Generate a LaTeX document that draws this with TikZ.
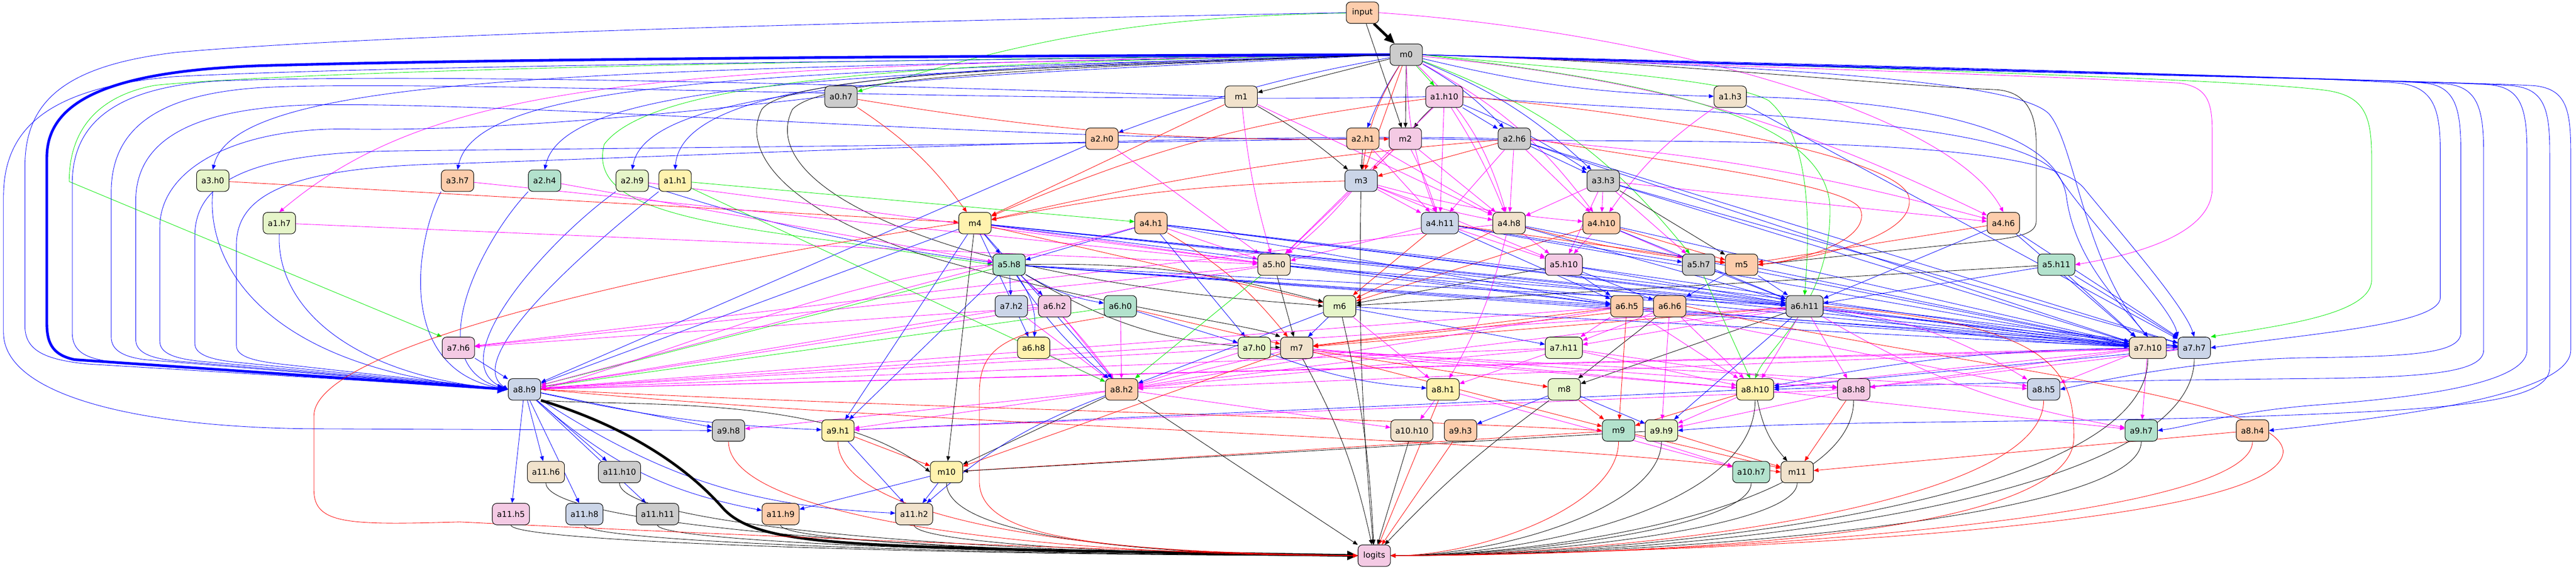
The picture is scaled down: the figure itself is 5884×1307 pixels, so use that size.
\documentclass[tikz,border=0pt]{standalone}
\usepackage{fontspec}
\setmainfont{DejaVu Sans}
\usetikzlibrary{arrows.meta}
\definecolor{cMint}{HTML}{B3E2CD}
\definecolor{cPeach}{HTML}{FDCDAC}
\definecolor{cBlue}{HTML}{CBD5E8}
\definecolor{cPink}{HTML}{F4CAE4}
\definecolor{cGreen}{HTML}{E6F5C9}
\definecolor{cYellow}{HTML}{FFF2AE}
\definecolor{cBeige}{HTML}{F1E2CC}
\definecolor{cGray}{HTML}{CCCCCC}
\definecolor{eB}{RGB}{0,0,255}
\definecolor{eM}{RGB}{255,0,255}
\definecolor{eG}{RGB}{0,235,0}
\definecolor{eR}{RGB}{255,0,0}
\definecolor{eK}{RGB}{0,0,0}
\pgfdeclarelayer{bg}
\pgfdeclarelayer{edges}
\pgfsetlayers{bg,edges,main}
\tikzset{
 nd/.style={draw=black, line width=0.6pt, rounded corners=5pt, minimum width=37pt, minimum height=24.5pt, inner xsep=5.2pt, inner ysep=0pt, font=\fontsize{9.2}{10}\selectfont, text=black},
 ed/.style={line width=0.5pt, -{Triangle[length=5.5pt,width=4.5pt]}},
 thk/.style={line width=3pt, -{Triangle[length=12pt,width=10pt]}}
}
\newcommand\myE[4][0]{\ifnum#1=0 \draw[ed,draw=#2] (#3) -- (#4);\else\draw[ed,draw=#2] (#3) to[bend left=#1] (#4);\fi}
\begin{document}
\begin{tikzpicture}[x=0.5pt,y=-0.5pt]
\useasboundingbox (0,0) rectangle (5884,1307);
\begin{pgfonlayer}{bg}\fill[white] (0,0) rectangle (5884,1307);\end{pgfonlayer}
% ---------------- nodes
\node[nd,fill=cPeach] (inp) at (3112,29) {input};
\node[nd,fill=cGray] (m0) at (3212,125) {m0};
\node[nd,fill=cGray] (a0h7) at (1921,221) {a0.h7};
\node[nd,fill=cBeige] (m1) at (2835,221) {m1};
\node[nd,fill=cPink] (a1h10) at (3299,221) {a1.h10};
\node[nd,fill=cBeige] (a1h3) at (3952,221) {a1.h3};
\node[nd,fill=cPeach] (a2h0) at (2517,317) {a2.h0};
\node[nd,fill=cPeach] (a2h1) at (3113,317) {a2.h1};
\node[nd,fill=cPink] (m2) at (3210,317) {m2};
\node[nd,fill=cGray] (a2h6) at (3459,317) {a2.h6};
\node[nd,fill=cGreen] (a3h0) at (486,413) {a3.h0};
\node[nd,fill=cPeach] (a3h7) at (1045,413) {a3.h7};
\node[nd,fill=cMint] (a2h4) at (1244,413) {a2.h4};
\node[nd,fill=cGreen] (a2h9) at (1444,413) {a2.h9};
\node[nd,fill=cYellow] (a1h1) at (1542,413) {a1.h1};
\node[nd,fill=cBlue] (m3) at (3109,413) {m3};
\node[nd,fill=cGray] (a3h3) at (3662,413) {a3.h3};
\node[nd,fill=cGreen] (a1h7) at (638,510) {a1.h7};
\node[nd,fill=cYellow] (m4) at (2227,510) {m4};
\node[nd,fill=cPeach] (a4h1) at (2629,510) {a4.h1};
\node[nd,fill=cBlue] (a4h11) at (3289,510) {a4.h11};
\node[nd,fill=cBeige] (a4h8) at (3447,510) {a4.h8};
\node[nd,fill=cPeach] (a4h10) at (3658,510) {a4.h10};
\node[nd,fill=cPeach] (a4h6) at (4576,510) {a4.h6};
\node[nd,fill=cMint] (a5h8) at (2305,605) {a5.h8};
\node[nd,fill=cBeige] (a5h0) at (2910,605) {a5.h0};
\node[nd,fill=cPink] (a5h10) at (3572,605) {a5.h10};
\node[nd,fill=cGray] (a5h7) at (3880,605) {a5.h7};
\node[nd,fill=cPeach] (m5) at (3978,605) {m5};
\node[nd,fill=cMint] (a5h11) at (4697,605) {a5.h11};
\node[nd,fill=cBlue] (a7h2) at (2310,700) {a7.h2};
\node[nd,fill=cPink] (a6h2) at (2409,700) {a6.h2};
\node[nd,fill=cMint] (a6h0) at (2559,700) {a6.h0};
\node[nd,fill=cGreen] (m6) at (3060,700) {m6};
\node[nd,fill=cPeach] (a6h5) at (3716,700) {a6.h5};
\node[nd,fill=cPeach] (a6h6) at (3814,700) {a6.h6};
\node[nd,fill=cGray] (a6h11) at (4122,700) {a6.h11};
\node[nd,fill=cPink] (a7h6) at (1047,795) {a7.h6};
\node[nd,fill=cYellow] (a6h8) at (2361,795) {a6.h8};
\node[nd,fill=cGreen] (a7h0) at (2865,795) {a7.h0};
\node[nd,fill=cBeige] (m7) at (2962,795) {m7};
\node[nd,fill=cGreen] (a7h11) at (3572,795) {a7.h11};
\node[nd,fill=cBeige] (a7h10) at (4906,795) {a7.h10};
\node[nd,fill=cBlue] (a7h7) at (5012,795) {a7.h7};
\node[nd,fill=cBlue] (a8h9) at (1198,890) {a8.h9};
\node[nd,fill=cPeach] (a8h2) at (2562,890) {a8.h2};
\node[nd,fill=cYellow] (a8h1) at (3296,890) {a8.h1};
\node[nd,fill=cGreen] (m8) at (3573,890) {m8};
\node[nd,fill=cYellow] (a8h10) at (4009,890) {a8.h10};
\node[nd,fill=cPink] (a8h8) at (4234,890) {a8.h8};
\node[nd,fill=cBlue] (a8h5) at (4668,890) {a8.h5};
\node[nd,fill=cGray] (a9h8) at (1664,984) {a9.h8};
\node[nd,fill=cYellow] (a9h1) at (1914,984) {a9.h1};
\node[nd,fill=cBeige] (a10h10) at (3225,984) {a10.h10};
\node[nd,fill=cPeach] (a9h3) at (3336,984) {a9.h3};
\node[nd,fill=cMint] (m9) at (3697,984) {m9};
\node[nd,fill=cGreen] (a9h9) at (3795,984) {a9.h9};
\node[nd,fill=cMint] (a9h7) at (4891,984) {a9.h7};
\node[nd,fill=cPeach] (a8h4) at (5145,984) {a8.h4};
\node[nd,fill=cBeige] (a11h6) at (1247,1079) {a11.h6};
\node[nd,fill=cGray] (a11h10) at (1415,1079) {a11.h10};
\node[nd,fill=cYellow] (m10) at (2162,1079) {m10};
\node[nd,fill=cMint] (a10h7) at (4000,1079) {a10.h7};
\node[nd,fill=cBeige] (m11) at (4105,1079) {m11};
\node[nd,fill=cPink] (a11h5) at (1167,1175) {a11.h5};
\node[nd,fill=cBlue] (a11h8) at (1335,1175) {a11.h8};
\node[nd,fill=cGray] (a11h11) at (1502,1175) {a11.h11};
\node[nd,fill=cPeach] (a11h9) at (1783,1175) {a11.h9};
\node[nd,fill=cBeige] (a11h2) at (2088,1175) {a11.h2};
\node[nd,fill=cPink] (logits) at (3139,1270) {logits};
% ---------------- edges
\begin{pgfonlayer}{edges}
% input
\draw[draw=black,thk] (inp) -- (m0);
\myE{eK}{inp}{m2}
\myE[-8]{eG}{inp}{a0h7}
\draw[ed,draw=eM] (inp.east) .. controls (3750,70) and (4450,250) .. (a4h6.north);
% m0 direct
\myE{eK}{m0}{m1}
\myE{eG}{m0}{a1h10}
\myE{eK}{m0}{m2}
\myE[-5]{eB}{m0}{a2h1}
\myE[8]{eB}{m0}{a2h6}
\myE[-6]{eB}{m0}{a1h3}
\myE[10]{eB}{m0}{a3h3}
\myE[-12]{eR}{m0}{m3}
\myE[15]{eM}{m0}{a4h8}
\myE[-5]{eB}{m0}{a2h0}
\myE[-10]{eM}{m0}{a4h11}
\myE[12]{eM}{m0}{a4h10}
\myE[10]{eM}{m0}{a4h6}
\myE[15]{eG}{m0}{a5h7}
% m0 left band
\draw[ed,draw=eB] (m0.west) .. controls (1400,160) and (540,165) .. (a3h0.north);
\draw[ed,draw=eB] (m0.west) .. controls (1800,165) and (1090,175) .. (a3h7.north);
\draw[ed,draw=eB] (m0.west) .. controls (2000,170) and (1290,180) .. (a2h4.north);
\draw[ed,draw=eB] (m0.west) .. controls (2200,175) and (1480,185) .. (a2h9.north);
\draw[ed,draw=eB] (m0.west) .. controls (2300,150) and (1560,160) .. (a1h1.north);
\draw[ed,draw=eM] (m0.west) .. controls (1500,150) and (1000,180) .. (a1h7.north);
\draw[ed,draw=eG] (m0.west) .. controls (1500,140) and (600,170) .. (354,195) .. controls (220,220) and (158,300) .. (158,415) -- (a7h6.north west);
\draw[ed,draw=eG] (m0.west) .. controls (2200,140) and (1500,170) .. (1380,330) .. controls (1350,450) and (1500,500) .. (1900,550) -- (a5h8.west);
\draw[draw=eB,thk] (m0.west) .. controls (2400,127) and (1200,133) .. (600,150) .. controls (250,162) and (107,230) .. (107,360) -- (107,740) .. controls (107,790) and (125,812) .. (170,822) -- (a8h9.west);
\draw[ed,draw=eB] (m0.west) .. controls (2000,140) and (900,150) .. (400,175) .. controls (100,200) and (8,300) .. (8,450) -- (8,760) .. controls (8,900) and (300,975) .. (700,980) -- (a9h8.west);
\draw[ed,draw=eB] (inp.west) .. controls (2200,45) and (900,75) .. (400,120) .. controls (150,150) and (57,230) .. (57,380) -- (57,745) .. controls (57,800) and (100,822) .. (200,832) -- (a8h9.west);
\draw[ed,draw=eB] (m1.west) .. controls (2200,200) and (1000,165) .. (500,185) .. controls (250,200) and (165,290) .. (165,420) -- (165,760) .. controls (165,800) and (190,818) .. (250,826) -- (a8h9.west);
\draw[ed,draw=eB] (a1h10.west) .. controls (2400,240) and (1000,180) .. (600,200) .. controls (350,215) and (254,300) .. (254,440) -- (254,770) .. controls (254,800) and (280,815) .. (330,822) -- (a8h9.west);
\draw[ed,draw=eB] (m2.west) .. controls (2400,330) and (1200,230) .. (700,240) .. controls (420,250) and (310,330) .. (310,460) -- (310,775) .. controls (310,805) and (340,818) .. (400,825) -- (a8h9.west);
\draw[ed,draw=eB] (a0h7.west) .. controls (1500,265) and (1100,300) .. (800,295) .. controls (550,290) and (365,380) .. (365,520) -- (365,780) .. controls (365,808) and (400,820) .. (460,826) -- (a8h9.west);
\draw[ed,draw=eB] (a2h1.west) .. controls (2400,330) and (1300,340) .. (900,345) .. controls (560,350) and (445,420) .. (445,540) -- (445,785) .. controls (445,810) and (480,822) .. (540,828) -- (a8h9.west);
\draw[ed,draw=eB] (a2h6.west) .. controls (2800,300) and (1500,360) .. (1000,375) .. controls (650,385) and (540,450) .. (540,560) -- (540,790) .. controls (540,815) and (580,825) .. (640,832) -- (a8h9.west);
\draw[ed,draw=eK] (m0.west) .. controls (2400,150) and (1800,170) .. (1740,250) .. controls (1690,350) and (1800,480) .. (2100,580) .. controls (2500,700) and (2850,740) .. (m7.north west);
\draw[ed,draw=eK] (m0.west) .. controls (2400,155) and (1880,175) .. (1810,250) .. controls (1760,350) and (1870,470) .. (2200,570) .. controls (2600,680) and (2950,690) .. (m6.west);
% left nodes -> a8h9
\draw[ed,draw=eB] (a3h0.south) .. controls (470,600) and (600,850) .. (a8h9.west);
\draw[ed,draw=eB] (a3h7.south west) .. controls (950,550) and (900,850) .. (a8h9.west);
\draw[ed,draw=eB] (a2h4.south west) .. controls (1100,550) and (950,840) .. (a8h9.west);
\draw[ed,draw=eB] (a2h9.south west) .. controls (1250,550) and (1000,830) .. (a8h9.west);
\draw[ed,draw=eB] (a1h7.south) .. controls (630,700) and (800,860) .. (a8h9.west);
\draw[ed,draw=eB] (a1h1.south west) .. controls (1350,560) and (1050,820) .. (a8h9.west);
% m0 right band
\draw[ed,draw=eK] (m0.east) .. controls (3800,140) and (4300,195) .. (4560,205) .. controls (4630,210) and (4651,260) .. (4651,330) -- (4651,505) .. controls (4651,540) and (4600,545) .. (4450,560) -- (m5.east);
\draw[ed,draw=eM] (m0.east) .. controls (3900,150) and (4600,170) .. (4980,190) .. controls (5040,200) and (5053,230) .. (5053,300) -- (5053,430) .. controls (5053,510) and (4950,570) .. (a5h11.east);
\draw[ed,draw=eG] (m0.east) .. controls (3600,160) and (3950,180) .. (4040,230) .. controls (4120,300) and (4140,450) .. (a6h11.north);
\draw[ed,draw=eG] (m0.east) .. controls (3700,180) and (4180,250) .. (4180,480) .. controls (4180,700) and (4040,790) .. (a8h10.north);
\draw[ed,draw=eB] (m0.east) .. controls (4000,150) and (4600,180) .. (4680,260) .. controls (4740,330) and (4760,600) .. (a7h10.north);
\draw[ed,draw=eG] (m0.east) .. controls (4100,150) and (5100,180) .. (5300,205) .. controls (5400,215) and (5417,260) .. (5417,360) -- (5417,640) .. controls (5417,720) and (5200,745) .. (a7h7.north east);
\draw[ed,draw=eB] (m0.east) .. controls (4100,145) and (5300,175) .. (5480,190) .. controls (5560,200) and (5574,250) .. (5574,350) -- (5574,680) .. controls (5574,740) and (5300,760) .. (a7h7.east);
\draw[ed,draw=eB] (m0.east) .. controls (4100,148) and (5400,178) .. (5540,190) .. controls (5610,198) and (5621,250) .. (5621,350) -- (5621,760) .. controls (5621,810) and (5500,815) .. (5250,818) .. controls (5000,825) and (4800,870) .. (a8h5.east);
\draw[ed,draw=eB] (m0.east) .. controls (4100,150) and (5450,180) .. (5590,192) .. controls (5660,200) and (5673,250) .. (5673,350) -- (5673,800) .. controls (5673,850) and (5550,862) .. (5300,865) .. controls (4800,870) and (4300,880) .. (a8h10.east);
\draw[ed,draw=eB] (m0.east) .. controls (4100,152) and (5550,182) .. (5690,194) .. controls (5760,202) and (5772,250) .. (5772,350) -- (5772,800) .. controls (5772,880) and (5500,910) .. (5300,925) .. controls (5100,940) and (5000,975) .. (a9h7.east);
\draw[ed,draw=eB] (m0.east) .. controls (4100,154) and (5600,184) .. (5740,196) .. controls (5812,204) and (5824,250) .. (5824,350) -- (5824,840) .. controls (5824,920) and (5600,935) .. (5200,950) .. controls (4700,968) and (4100,960) .. (a9h9.east);
\draw[ed,draw=eB] (m0.east) .. controls (4100,156) and (5650,186) .. (5790,196) .. controls (5862,204) and (5872,250) .. (5872,350) -- (5872,800) .. controls (5872,900) and (5500,950) .. (a8h4.east);
\draw[ed,draw=eB] (a1h3.east) .. controls (4400,230) and (4700,300) .. (4720,450) .. controls (4740,600) and (4850,700) .. (a7h10.north);
\draw[ed,draw=eB] (a1h10.east) .. controls (3800,260) and (4600,260) .. (4700,400) .. controls (4780,520) and (4960,700) .. (a7h7.north west);
\draw[ed,draw=eB] (m2.east) .. controls (3800,330) and (4650,300) .. (4760,430) .. controls (4850,540) and (4990,700) .. (a7h7.north);
\draw[ed,draw=eR] (a1h10.east) .. controls (3800,260) and (4340,360) .. (4360,450) .. controls (4380,540) and (4150,590) .. (m5.east);
\draw[ed,draw=eR] (a2h6.east) .. controls (3800,370) and (4230,420) .. (4250,480) .. controls (4270,540) and (4150,590) .. (m5.east);
% rows 2-4
\myE[-5]{eK}{a1h10}{m2}
\myE[-5]{eR}{a0h7}{m2}
\myE{eB}{a1h10}{a2h6}
\myE{eR}{m0}{m3}
\myE[5]{eK}{m1}{m3}
\myE{eK}{a2h1}{m3}
\myE{eR}{m2}{m3}
\myE{eR}{a2h6}{m3}
\myE{eB}{a2h6}{a3h3}
\myE[5]{eB}{a1h10}{a3h3}
\myE[10]{eR}{a0h7}{m4}
\myE{eR}{a3h0}{m4}
\myE{eR}{m1}{m4}
\myE[-5]{eR}{m3}{m4}
\myE[-4]{eR}{a2h6}{m4}
\myE[-8]{eR}{a1h10}{m4}
\myE{eG}{a1h1}{a4h1}
% a4 layer
\myE{eM}{a1h10}{a4h11}
\myE[5]{eM}{m2}{a4h11}
\myE{eM}{m3}{a4h11}
\myE{eM}{a2h1}{a4h11}
\myE{eM}{a2h6}{a4h11}
\myE{eM}{m1}{a4h8}
\myE{eM}{m2}{a4h8}
\myE[-5]{eM}{m3}{a4h8}
\myE{eM}{a2h6}{a4h8}
\myE{eM}{a3h3}{a4h8}
\myE[5]{eM}{a1h10}{a4h8}
\myE{eM}{a2h1}{a4h8}
\myE[-5]{eM}{m3}{a4h10}
\myE{eM}{a2h6}{a4h10}
\myE{eM}{a3h3}{a4h10}
\myE[-10]{eM}{a1h3}{a4h10}
\myE{eM}{a3h3}{a4h6}
\myE[5]{eM}{a2h6}{a4h6}
% a5 layer
\myE{eB}{m4}{a5h8}
\myE{eB}{a4h1}{a5h8}
\myE[-5]{eB}{a2h9}{a5h8}
\myE{eM}{a2h4}{a5h8}
\myE{eM}{m4}{a5h0}
\myE{eM}{a4h1}{a5h0}
\myE{eM}{a2h0}{a5h0}
\myE[-5]{eM}{m1}{a5h0}
\myE{eM}{m2}{a5h0}
\myE[5]{eM}{m3}{a5h0}
\myE{eM}{a1h10}{a5h0}
\myE{eM}{a4h11}{a5h0}
\myE{eM}{a3h7}{a5h0}
\myE{eM}{a1h7}{a5h0}
\myE{eM}{a2h9}{a5h0}
\myE{eM}{a4h8}{a5h10}
\myE{eM}{a4h10}{a5h10}
\myE{eM}{a3h3}{a5h10}
\myE{eM}{a4h11}{a5h10}
\myE{eM}{m3}{a5h10}
\myE{eM}{a4h10}{a5h7}
\myE{eM}{a3h3}{a5h7}
\myE{eB}{a4h11}{a5h7}
\myE{eR}{a4h10}{m5}
\myE{eR}{a4h11}{m5}
\myE{eK}{a3h3}{m5}
\myE{eR}{a4h6}{m5}
\myE[-4]{eR}{a4h8}{m5}
% a6/m6 layer
\myE{eB}{a5h8}{a7h2}
\myE{eB}{a5h8}{a6h2}
\myE[-10]{eB}{a5h8}{a6h0}
\myE{eR}{m4}{m6}
\myE[8]{eK}{a5h8}{m6}
\myE{eR}{a4h11}{m6}
\myE{eR}{a4h8}{m6}
\myE{eR}{a4h10}{m6}
\myE{eK}{a5h10}{m6}
\myE{eK}{a5h11}{m6}
\myE{eB}{a5h8}{a6h5}
\myE{eB}{a4h1}{a6h5}
\myE{eB}{m4}{a6h5}
\myE{eB}{a5h0}{a6h5}
\myE{eB}{a4h11}{a6h5}
\myE{eB}{a5h10}{a6h5}
\myE{eB}{m5}{a6h6}
\myE{eB}{a5h10}{a6h6}
\myE{eB}{a5h7}{a6h11}
\myE{eB}{m5}{a6h11}
\myE{eB}{a4h10}{a6h11}
\myE{eB}{a4h8}{a6h11}
\myE{eB}{a4h6}{a6h11}
\myE{eB}{a5h11}{a6h11}
\myE{eB}{a5h10}{a6h11}
\myE{eB}{m4}{a6h11}
\myE{eB}{a5h8}{a6h11}
\myE{eB}{a4h1}{a6h11}
\myE{eB}{a5h0}{a6h11}
% row 8
\myE{eM}{a5h0}{a7h6}
\myE{eM}{a6h2}{a7h6}
\myE{eM}{a4h8}{a7h6}
\myE[20]{eB}{a5h8}{a6h8}
\myE{eB}{m4}{a6h8}
\myE{eB}{a4h1}{a7h0}
\myE{eB}{a6h0}{a7h0}
\myE{eR}{a6h0}{m7}
\myE[-15]{eK}{a5h8}{m7}
\myE{eK}{a5h0}{m7}
\myE{eR}{a6h5}{m7}
\myE{eR}{a6h11}{m7}
\myE{eR}{a6h6}{m7}
\myE{eB}{m6}{m7}
\myE[10]{eR}{a4h1}{m7}
\myE{eB}{m6}{a7h11}
\myE{eM}{a6h5}{a7h11}
\myE{eM}{a6h6}{a7h11}
\myE{eM}{a6h11}{a7h11}
\myE{eB}{a2h6}{a7h10}
\myE{eB}{a3h3}{a7h10}
\myE{eB}{a4h6}{a7h10}
\myE{eB}{a5h11}{a7h10}
\myE{eB}{a6h11}{a7h10}
\myE{eB}{a6h5}{a7h10}
\myE{eB}{m5}{a7h10}
\myE{eB}{a4h10}{a7h10}
\myE{eB}{a4h8}{a7h10}
\myE{eB}{a5h8}{a7h10}
\myE{eB}{a4h1}{a7h10}
\myE{eB}{m4}{a7h10}
\myE{eB}{a5h0}{a7h10}
\myE{eB}{a5h10}{a7h10}
\myE{eB}{m6}{a7h10}
\myE{eB}{a4h11}{a7h10}
\myE{eB}{a1h3}{a7h7}
\myE{eB}{a4h6}{a7h7}
\myE{eB}{a5h11}{a7h7}
\myE[-5]{eB}{a6h11}{a7h7}
\myE{eB}{a2h6}{a7h7}
\myE{eB}{a3h3}{a7h7}
\myE{eB}{a4h1}{a7h7}
\myE{eB}{a5h8}{a7h7}
\myE{eB}{m4}{a7h7}
% a8h9 others
\myE{eB}{a2h0}{a8h9}
\myE{eB}{a7h6}{a8h9}
\myE{eB}{m4}{a8h9}
\myE{eG}{a5h8}{a8h9}
\myE{eG}{a6h0}{a8h9}
\draw[ed,draw=eM] (a5h8.west) .. controls (1900,640) and (1500,820) .. (a8h9.east);
\myE{eM}{a4h1}{a8h9}
\myE{eM}{a5h0}{a8h9}
\myE{eM}{a6h2}{a8h9}
\myE{eM}{a7h0}{a8h9}
\myE{eM}{a7h11}{a8h9}
\myE{eM}{a6h5}{a8h9}
\myE{eM}{a6h11}{a8h9}
\myE{eM}{a7h10}{a8h9}
\myE{eM}{a7h7}{a8h9}
% a8h2
\myE{eM}{a6h2}{a8h2}
\myE{eM}{a6h8}{a8h2}
\myE{eM}{a6h0}{a8h2}
\myE{eM}{a7h2}{a8h2}
\myE{eM}{a7h0}{a8h2}
\myE{eM}{m7}{a8h2}
\myE[5]{eM}{a5h8}{a8h2}
\myE{eM}{a6h5}{a8h2}
\myE{eM}{a7h11}{a8h2}
\myE{eG}{a5h0}{a8h2}
\myE{eB}{m4}{a8h2}
\myE[-8]{eB}{a5h8}{a8h2}
\myE{eB}{m6}{a8h2}
\myE{eG}{a1h1}{a8h2}
\myE{eM}{a7h10}{a8h2}
\myE{eM}{a6h11}{a8h2}
% a8h1, m8, a8h10, a8h8, a8h5
\myE[8]{eM}{a4h8}{a8h1}
\myE{eM}{m6}{a8h1}
\myE{eM}{a7h11}{a8h1}
\myE[-8]{eB}{a7h0}{a8h1}
\myE{eR}{m7}{m8}
\myE{eK}{a6h6}{m8}
\myE{eK}{a6h11}{m8}
\myE{eG}{a5h7}{a8h10}
\myE{eM}{a6h11}{a8h10}
\myE{eM}{a6h5}{a8h10}
\myE{eM}{a7h11}{a8h10}
\myE{eM}{m7}{a8h10}
\myE{eM}{a6h6}{a8h10}
\myE{eM}{a7h10}{a8h10}
\myE[-5]{eB}{a7h10}{a8h10}
\myE{eB}{a7h7}{a8h10}
\myE{eM}{a7h0}{a8h10}
\myE{eM}{a6h11}{a8h8}
\myE{eM}{a7h11}{a8h8}
\myE{eM}{a7h10}{a8h8}
\myE{eM}{a7h7}{a8h8}
\myE{eM}{m7}{a8h8}
\myE[12]{eM}{a6h11}{a8h5}
\myE{eM}{a6h5}{a8h5}
\myE{eM}{a7h10}{a8h5}
\myE{eM}{a7h0}{a8h5}
% row 10
\myE{eB}{a8h9}{a9h8}
\myE{eM}{a8h2}{a9h8}
\myE[-5]{eB}{a8h9}{a9h1}
\myE{eB}{m4}{a9h1}
\myE{eB}{a5h8}{a9h1}
\myE{eM}{a8h2}{a9h1}
\myE{eB}{a8h10}{a9h1}
\myE{eM}{a8h8}{a9h1}
\myE{eM}{a8h2}{a10h10}
\myE{eM}{a8h1}{a10h10}
\myE{eB}{m8}{a9h3}
\draw[ed,draw=eR] (a8h9.east) .. controls (2000,930) and (3000,950) .. (m9.west);
\myE{eR}{m8}{m9}
\myE{eR}{a6h5}{m9}
\myE{eR}{a8h10}{m9}
\myE{eR}{m7}{m9}
\myE{eB}{m8}{a9h9}
\myE{eM}{a6h6}{a9h9}
\myE{eB}{a6h11}{a9h9}
\myE{eM}{a8h8}{a9h9}
\myE{eM}{a8h10}{a9h9}
\myE[-10]{eM}{a6h11}{a9h7}
\myE{eM}{a8h10}{a9h7}
\myE{eM}{a7h10}{a9h7}
% rows 11-12
\myE{eB}{a8h9}{a11h6}
\myE{eB}{a8h9}{a11h10}
\myE{eR}{a9h1}{m10}
\myE{eK}{a8h2}{m10}
\draw[ed,draw=eK] (a8h9.south east) .. controls (1450,930) and (1900,900) .. (m10.west);
\myE{eR}{m9}{m10}
\myE{eK}{a9h9}{m10}
\myE{eK}{m4}{m10}
\myE{eR}{m7}{m10}
\myE{eM}{m9}{a10h7}
\myE{eM}{a8h1}{a10h7}
\myE{eR}{m9}{m11}
\draw[ed,draw=eR] (a8h9.east) .. controls (2200,980) and (3500,1000) .. (m11.west);
\myE[-15]{eK}{a8h10}{m11}
\myE{eR}{a8h8}{m11}
\myE{eR}{a8h4}{m11}
\myE{eR}{a9h9}{m11}
\myE{eB}{a8h9}{a11h5}
\myE{eB}{a8h9}{a11h8}
\myE{eB}{a8h9}{a11h11}
\myE[-15]{eB}{a8h9}{a11h9}
\myE{eB}{m10}{a11h9}
\myE{eB}{m10}{a11h2}
\myE{eB}{a9h1}{a11h2}
\myE[-15]{eB}{a8h9}{a11h2}
\myE[-10]{eB}{a8h2}{a11h2}
% logits
\draw[draw=black,thk] (a8h9.south east) .. controls (1450,980) and (1580,1080) .. (1650,1160) .. controls (1720,1240) and (1900,1245) .. (2400,1258) -- (logits.west);
\draw[ed,draw=eK] (a11h5.south) .. controls +(0,40) and +(-900,0) .. (logits.west);
\draw[ed,draw=eK] (a11h6.south) .. controls +(0,100) and +(-900,0) .. (logits.west);
\draw[ed,draw=eK] (a11h8.south) .. controls +(0,40) and +(-800,0) .. (logits.west);
\draw[ed,draw=eK] (a11h10.south) .. controls +(0,100) and +(-800,0) .. (logits.west);
\draw[ed,draw=eK] (a11h11.south) .. controls +(0,40) and +(-700,0) .. (logits.west);
\draw[ed,draw=eK] (a11h9.south) .. controls +(0,40) and +(-600,0) .. (logits.west);
\draw[ed,draw=eK] (a11h2.south) .. controls +(0,40) and +(-500,0) .. (logits.west);
\draw[ed,draw=eK] (m10.south) .. controls +(0,120) and +(-500,0) .. (logits.west);
\draw[ed,draw=eR] (a9h8.south) .. controls +(0,180) and +(-700,0) .. (logits.west);
\draw[ed,draw=eR] (a9h1.south) .. controls +(0,180) and +(-600,0) .. (logits.west);
\draw[ed,draw=eR] (m4.west) .. controls (1600,600) and (720,780) .. (717,950) -- (717,1120) .. controls (717,1200) and (800,1200) .. (1050,1193) .. controls (1400,1210) and (2500,1260) .. (logits.west);
\draw[ed,draw=eR] (a6h0.south west) .. controls (2300,760) and (2237,790) .. (2237,900) -- (2237,1100) .. controls (2237,1230) and (2500,1260) .. (logits.west);
\myE{eK}{a8h2}{logits}
\myE[5]{eK}{m6}{logits}
\myE{eR}{a8h1}{logits}
\myE{eK}{a10h10}{logits}
\myE{eR}{a9h3}{logits}
\myE[-3]{eK}{m3}{logits}
\myE[-5]{eK}{m8}{logits}
\myE[8]{eK}{m7}{logits}
\draw[ed,draw=eR] (m9.south) .. controls +(0,150) and +(200,0) .. (logits.east);
\draw[ed,draw=eK] (a9h9.south) .. controls +(0,150) and +(250,0) .. (logits.east);
\draw[ed,draw=eK] (a10h7.south) .. controls +(0,100) and +(300,0) .. (logits.east);
\draw[ed,draw=eK] (m11.south) .. controls +(0,100) and +(350,0) .. (logits.east);
\draw[ed,draw=eK] (a8h10.south) .. controls +(0,250) and +(300,0) .. (logits.east);
\draw[ed,draw=eK] (a8h8.south) .. controls +(0,250) and +(350,0) .. (logits.east);
\draw[ed,draw=eR] (a8h5.south) .. controls +(0,250) and +(500,0) .. (logits.east);
\draw[ed,draw=eK] (a9h7.south) .. controls +(0,180) and +(600,0) .. (logits.east);
\draw[ed,draw=eK] (a7h10.south) .. controls +(0,330) and +(600,0) .. (logits.east);
\draw[ed,draw=eK] (a7h7.south) .. controls +(0,330) and +(700,0) .. (logits.east);
\draw[ed,draw=eR] (a8h4.south) .. controls +(0,180) and +(700,0) .. (logits.east);
\draw[ed,draw=eR] (a6h11.east) .. controls (4700,740) and (4737,850) .. (4737,1000) .. controls (4737,1230) and (3800,1265) .. (logits.east);
\draw[ed,draw=eR] (a6h6.east) .. controls (4400,830) and (5200,900) .. (5215,1030) .. controls (5220,1200) and (4000,1262) .. (logits.east);
\end{pgfonlayer}
\end{tikzpicture}
\end{document}
